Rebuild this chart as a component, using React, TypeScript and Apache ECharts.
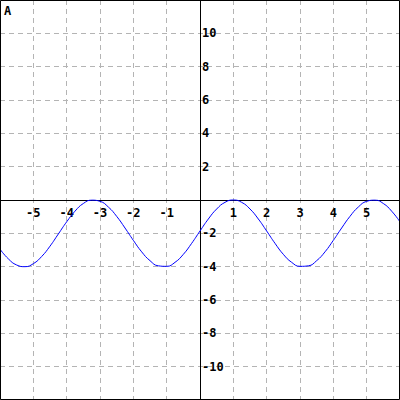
import React, { useEffect, useRef } from "react";
import * as echarts from "echarts";

const xValues = [
  -6, -5.75, -5.5, -5.25, -5, -4.75, -4.5, -4.25, -4, -3.75, -3.5, -3.25, -3,
  -2.75, -2.5, -2.25, -2, -1.75, -1.5, -1.25, -1, -0.75, -0.5, -0.25, 0, 0.25,
  0.5, 0.75, 1, 1.25, 1.5, 1.75, 2, 2.25, 2.5, 2.75, 3, 3.25, 3.5, 3.75, 4,
  4.25, 4.5, 4.75, 5, 5.25, 5.5, 5.75, 6,
];
const yValues = [
  -2.95, -3.53, -3.9, -4.0, -3.82, -3.39, -2.77, -2.04, -1.31, -0.67, -0.21,
  -0.01, -0.08, -0.42, -0.98, -1.68, -2.42, -3.11, -3.64, -3.95, -3.98, -3.74,
  -3.26, -2.6, -1.86, -1.14, -0.54, -0.14, 0, -0.14, -0.54, -1.14, -1.86, -2.6,
  -3.26, -3.74, -3.98, -3.95, -3.64, -3.11, -2.42, -1.68, -0.98, -0.42, -0.08,
  -0.01, -0.21, -0.67, -1.31,
];
const cornerLabel = "A";

export default function App() {
  const ref = useRef<HTMLDivElement>(null);
  useEffect(() => {
    if (!ref.current) return;
    const chart = echarts.init(ref.current, null, { renderer: "svg" });
    const font = "DejaVu Sans Mono";
    const gridLine = { show: true, lineStyle: { color: "#b4b4b4", type: [5, 4], width: 1 } };
    chart.setOption({
      animation: false,
      grid: { left: 0, right: 0, top: 0, bottom: 0, outerBoundsMode: "none", containLabel: false },
      xAxis: {
        type: "value",
        position: "bottom",
        offset: -200,
        min: -6,
        max: 6,
        interval: 1,
        axisLine: { show: true, onZero: false, lineStyle: { color: "#000", width: 1 } },
        axisTick: { show: false },
        splitLine: gridLine,
        axisLabel: {
          margin: 7,
          color: "#000",
          fontFamily: font,
          fontWeight: "bold",
          fontSize: 12,
          formatter: (v: number) => (v === 0 || Math.abs(v) === 6 ? "" : String(v)),
        },
      },
      yAxis: {
        type: "value",
        position: "left",
        offset: -200,
        min: -12,
        max: 12,
        interval: 2,
        axisLine: { show: true, onZero: false, lineStyle: { color: "#000", width: 1 } },
        axisTick: { show: false },
        splitLine: gridLine,
        axisLabel: {
          inside: true,
          margin: 2,
          color: "#000",
          fontFamily: font,
          fontWeight: "bold",
          fontSize: 12,
          formatter: (v: number) => (v === 0 || Math.abs(v) === 12 ? "" : String(v)),
        },
      },
      graphic: [
        {
          type: "rect",
          shape: { x: 0.5, y: 0.5, width: 399, height: 399 },
          style: { fill: "none", stroke: "#000", lineWidth: 1 },
          z: 100,
        },
        {
          type: "text",
          left: 4,
          top: 5,
          style: {
            text: cornerLabel,
            fill: "#000",
            font: `bold 12px ${font}`,
          },
          z: 100,
        },
      ],
      series: [
        {
          type: "line",
          data: xValues.map((x, i) => [x, yValues[i]]),
          smooth: true,
          showSymbol: false,
          lineStyle: { color: "#0000ff", width: 1 },
        },
      ],
    });
    return () => chart.dispose();
  }, []);
  return (
    <div
      ref={ref}
      style={{ position: "absolute", left: 0, top: 0, width: 400, height: 400, background: "#fff" }}
    />
  );
}
